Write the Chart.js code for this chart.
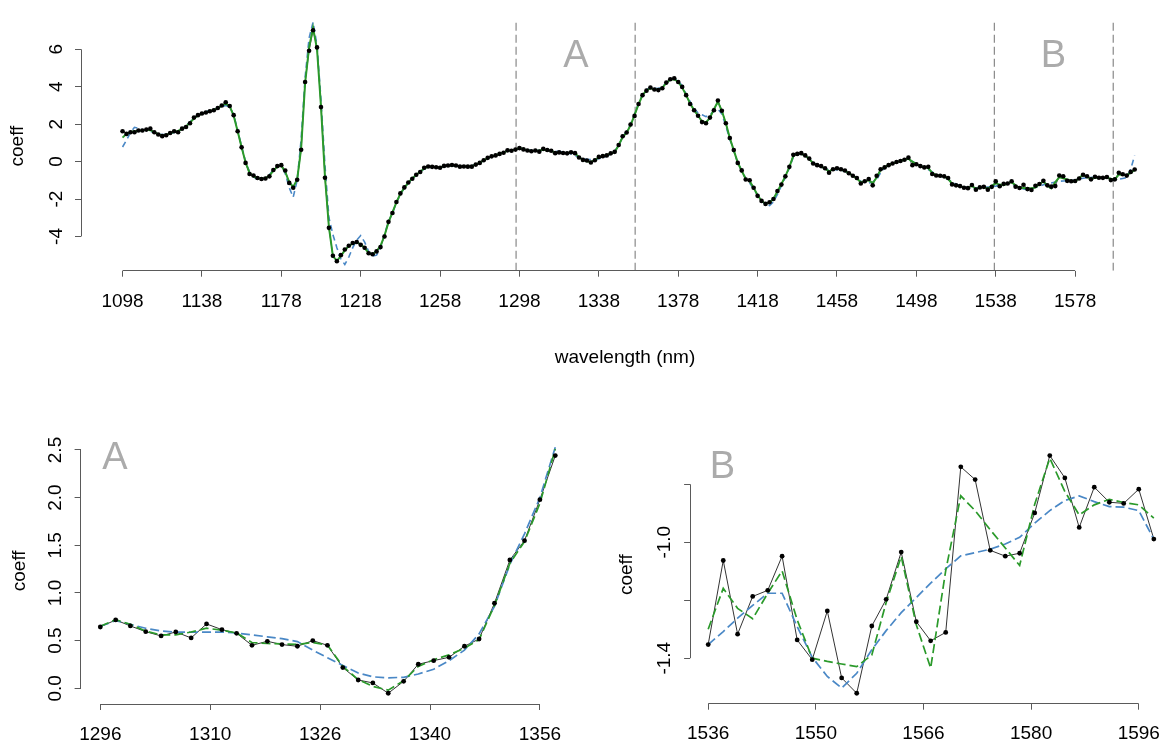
<!DOCTYPE html>
<html><head><meta charset="utf-8">
<script src="https://cdn.jsdelivr.net/npm/chart.js@4.4.1/dist/chart.umd.min.js"></script>
<style>
html,body{margin:0;padding:0;background:#fff;width:1173px;height:744px;overflow:hidden;}
canvas{position:absolute;display:block;}
#top{left:0;top:0;} #pa{left:0;top:400px;} #pb{left:580px;top:400px;}
</style></head><body>
<canvas id="top" width="1173" height="400"></canvas>
<canvas id="pa" width="580" height="344"></canvas>
<canvas id="pb" width="593" height="344"></canvas>
<script>
// ---------- data ----------
const topStart = 1098, topStep = 2;   // wavelength grid of the full spectrum
const topBlack = [1.62,1.48,1.57,1.57,1.66,1.66,1.71,1.76,1.57,1.45,
1.36,1.41,1.53,1.62,1.57,1.76,1.85,2.05,2.35,2.48,
2.57,2.62,2.69,2.74,2.86,3.00,3.17,2.97,2.48,1.62,
0.76,-0.07,-0.66,-0.74,-0.88,-0.93,-0.90,-0.79,-0.45,-0.24,
-0.19,-0.48,-1.14,-1.40,-0.97,0.63,4.25,5.92,7.02,6.10,
2.91,-0.86,-3.54,-5.03,-5.32,-5.00,-4.70,-4.50,-4.35,-4.30,
-4.45,-4.60,-4.90,-4.95,-4.80,-4.57,-4.00,-3.22,-2.75,-2.16,
-1.70,-1.38,-1.12,-0.92,-0.70,-0.56,-0.33,-0.26,-0.28,-0.30,
-0.33,-0.23,-0.21,-0.18,-0.21,-0.27,-0.26,-0.27,-0.27,-0.16,
-0.07,0.07,0.20,0.28,0.33,0.41,0.47,0.60,0.58,
0.64,0.72,0.65,0.59,0.55,0.59,0.53,0.68,0.62,0.58,0.45,0.49,0.46,0.44,0.50,0.45,0.22,0.09,0.06,-0.05,0.07,0.25,0.29,0.33,0.44,0.52,0.89,1.35,1.55,1.98,2.44,
3.08,3.55,3.79,3.96,3.85,3.82,3.92,4.22,4.40,4.45,
4.25,3.99,3.55,3.08,2.74,2.45,2.11,2.05,2.35,2.74,
3.26,2.72,2.05,1.26,0.62,-0.07,-0.47,-0.96,-1.00,-1.40,
-1.83,-2.10,-2.26,-2.17,-2.00,-1.57,-1.23,-0.79,-0.28,0.36,
0.41,0.45,0.33,0.16,-0.10,-0.19,-0.24,-0.36,-0.59,-0.41,
-0.36,-0.41,-0.48,-0.62,-0.76,-0.88,-1.17,-1.05,-0.93,-1.27,
-0.76,-0.41,-0.31,-0.19,-0.10,-0.02,0.03,0.10,0.21,-0.19,
-0.14,-0.24,-0.31,-0.28,-0.66,-0.74,-0.76,-0.79,-0.88,-1.22,
-1.27,-1.31,-1.40,-1.42,-1.25,-1.50,-1.38,-1.35,-1.50,
-1.35,-1.06,-1.32,-1.19,-1.17,-1.05,-1.34,-1.41,-1.24,-1.47,-1.52,-1.29,-1.20,-1.03,-1.27,-1.34,-1.31,-0.74,-0.78,-1.03,-1.05,-1.04,-0.90,-0.70,-0.78,-0.95,-0.81,-0.86,-0.87,-0.82,-0.99,
-0.95,-0.60,-0.68,-0.75,-0.55,-0.42];
const topGreen = [1.28,1.48,1.58,1.62,1.64,1.67,1.70,1.68,1.57,1.46,
1.40,1.43,1.52,1.58,1.64,1.74,1.88,2.08,2.30,2.46,
2.56,2.63,2.70,2.76,2.86,2.98,3.10,2.95,2.45,1.62,
0.76,-0.05,-0.60,-0.80,-0.88,-0.92,-0.88,-0.75,-0.48,-0.28,
-0.22,-0.55,-1.10,-1.35,-0.95,0.70,4.20,6.10,7.15,6.00,
2.95,-0.80,-3.50,-5.05,-5.30,-5.05,-4.75,-4.50,-4.38,-4.32,
-4.42,-4.62,-4.88,-4.95,-4.78,-4.50,-3.95,-3.25,-2.72,-2.18,
-1.72,-1.40,-1.12,-0.90,-0.70,-0.54,-0.36,-0.28,-0.28,-0.30,
-0.30,-0.25,-0.21,-0.20,-0.22,-0.25,-0.26,-0.26,-0.24,-0.16,
-0.06,0.07,0.19,0.28,0.34,0.41,0.49,0.57,0.60,
0.65,0.72,0.67,0.60,0.56,0.56,0.59,0.63,0.61,0.58,0.48,0.47,0.46,0.46,0.48,0.45,0.23,0.09,0.02,-0.02,0.08,0.23,0.30,0.35,0.42,0.51,0.87,1.31,1.54,1.94,2.50,
3.05,3.55,3.80,3.92,3.86,3.84,3.95,4.20,4.38,4.40,
4.25,3.95,3.55,3.10,2.75,2.45,2.15,2.10,2.35,2.80,
3.20,2.70,2.05,1.26,0.60,-0.05,-0.50,-0.92,-1.05,-1.40,
-1.80,-2.10,-2.25,-2.20,-1.98,-1.60,-1.20,-0.78,-0.30,0.30,
0.42,0.42,0.32,0.14,-0.08,-0.20,-0.26,-0.38,-0.52,-0.42,
-0.38,-0.42,-0.50,-0.62,-0.76,-0.90,-1.10,-1.05,-1.00,-1.15,
-0.85,-0.45,-0.30,-0.18,-0.10,-0.03,0.03,0.10,0.15,0.00,
-0.15,-0.24,-0.30,-0.35,-0.60,-0.72,-0.76,-0.80,-0.92,-1.18,
-1.28,-1.32,-1.38,-1.40,-1.30,-1.45,-1.40,-1.36,-1.45,
-1.30,-1.16,-1.23,-1.26,-1.18,-1.10,-1.27,-1.40,-1.41,-1.42,-1.43,-1.39,-1.21,-1.05,-1.29,-1.43,-1.10,-0.84,-0.89,-0.96,-1.02,-1.08,-0.87,-0.71,-0.83,-0.91,-0.87,-0.85,-0.86,-0.87,-0.92,
-0.95,-0.70,-0.70,-0.72,-0.60,-0.45];
const topBlue = [0.78,1.15,1.55,1.83,1.78,1.70,1.66,1.62,1.55,1.48,
1.45,1.45,1.50,1.55,1.62,1.75,1.92,2.12,2.32,2.48,
2.58,2.66,2.74,2.80,2.86,2.93,3.00,2.92,2.50,1.70,
0.80,0.00,-0.55,-0.82,-0.95,-0.95,-0.88,-0.70,-0.45,-0.25,
-0.20,-0.65,-1.40,-1.90,-1.00,1.20,4.50,6.60,7.45,6.20,
3.30,-0.20,-3.00,-3.90,-4.60,-5.20,-5.50,-5.10,-4.60,-4.20,
-3.95,-4.30,-4.80,-5.05,-5.00,-4.60,-3.90,-3.20,-2.75,-2.20,
-1.75,-1.42,-1.15,-0.93,-0.72,-0.55,-0.40,-0.32,-0.30,-0.30,
-0.30,-0.27,-0.24,-0.23,-0.23,-0.24,-0.25,-0.25,-0.22,-0.15,
-0.06,0.05,0.17,0.26,0.34,0.42,0.50,0.56,0.61,
0.65,0.71,0.67,0.63,0.60,0.59,0.59,0.59,0.59,0.58,0.56,0.54,0.52,0.49,0.40,0.32,0.24,0.16,0.12,0.11,0.12,0.15,0.20,0.29,0.40,0.57,0.86,1.30,1.62,2.00,2.53,
3.10,3.55,3.85,3.95,3.92,3.90,4.00,4.20,4.40,4.45,
4.30,4.05,3.60,3.20,2.85,2.60,2.50,2.40,2.50,2.70,
2.80,2.55,1.90,1.20,0.55,-0.05,-0.50,-0.90,-1.15,-1.45,
-1.80,-2.10,-2.30,-2.35,-2.15,-1.75,-1.30,-0.85,-0.35,0.25,
0.38,0.40,0.32,0.15,-0.05,-0.18,-0.28,-0.38,-0.45,-0.45,
-0.42,-0.45,-0.52,-0.62,-0.75,-0.90,-1.05,-1.12,-1.15,-1.10,
-0.95,-0.60,-0.35,-0.20,-0.10,-0.02,0.04,0.08,0.10,0.00,
-0.12,-0.22,-0.32,-0.42,-0.55,-0.68,-0.78,-0.85,-0.95,-1.10,
-1.20,-1.28,-1.35,-1.40,-1.42,-1.42,-1.40,-1.38,-1.36,
-1.35,-1.31,-1.26,-1.22,-1.18,-1.18,-1.29,-1.40,-1.46,-1.50,-1.45,-1.37,-1.31,-1.24,-1.19,-1.14,-1.09,-1.05,-1.04,-1.02,-1.01,-0.98,-0.93,-0.89,-0.86,-0.84,-0.86,-0.88,-0.88,-0.89,-0.99,
-0.99,-0.95,-0.90,-0.85,-0.40,0.33];
const topXTicks = [1098,1138,1178,1218,1258,1298,1338,1378,1418,1458,1498,1538,1578];
const topXLabels = ['1098','1138','1178','1218','1258','1298','1338','1378','1418','1458','1498','1538','1578'];
const topYTicks = [-4,-2,0,2,4,6];
const topYLabels = ['-4','-2','0','2','4','6'];
const regionLines = [1296.3, 1356.3, 1537.3, 1597.2];

const aWave = [1296.0,1298.1,1300.1,1302.2,1304.3,1306.3,1308.4,1310.5,1312.6,1314.6,1316.7,1318.8,1320.8,1322.9,1325.0,1327.0,1329.1,1331.2,1333.2,1335.3,1337.4,1339.4,1341.5,1343.6,1345.7,1347.7,1349.8,1351.9,1353.9,1356.0,1358.1];
const aBlack = [0.643,0.717,0.654,0.594,0.549,0.591,0.528,0.675,0.615,0.577,0.451,0.493,0.458,0.441,0.500,0.451,0.217,0.087,0.056,-0.052,0.073,0.252,0.290,0.325,0.441,0.517,0.892,1.346,1.549,1.979,2.441];
const aGreen = [0.65,0.72,0.67,0.60,0.56,0.56,0.59,0.63,0.61,0.58,0.48,0.47,0.465,0.46,0.48,0.455,0.23,0.09,0.02,-0.02,0.08,0.23,0.30,0.35,0.42,0.51,0.87,1.31,1.54,1.94,2.51];
const aBlue = [0.65,0.71,0.67,0.63,0.60,0.59,0.59,0.59,0.59,0.58,0.56,0.54,0.52,0.49,0.40,0.32,0.24,0.16,0.12,0.11,0.115,0.15,0.20,0.29,0.40,0.57,0.86,1.30,1.62,2.00,2.53];
const aXTicks = [1296,1311,1326,1341,1356];
const aXLabels = ['1296','1310','1326','1340','1356'];
const aYTicks = [0,0.5,1,1.5,2,2.5];
const aYLabels = ['0.0','0.5','1.0','1.5','2.0','2.5'];

const bWave = [1536.0,1538.1,1540.1,1542.2,1544.3,1546.3,1548.4,1550.5,1552.6,1554.6,1556.7,1558.8,1560.8,1562.9,1565.0,1567.0,1569.1,1571.2,1573.2,1575.3,1577.4,1579.4,1581.5,1583.6,1585.7,1587.7,1589.8,1591.9,1593.9,1596.0,1598.1];
const bBlack = [-1.353,-1.063,-1.317,-1.187,-1.166,-1.048,-1.337,-1.405,-1.237,-1.468,-1.521,-1.289,-1.197,-1.034,-1.274,-1.340,-1.311,-0.740,-0.784,-1.028,-1.048,-1.038,-0.899,-0.701,-0.778,-0.949,-0.810,-0.862,-0.866,-0.817,-0.989];
const bGreen = [-1.300,-1.159,-1.228,-1.264,-1.176,-1.099,-1.268,-1.400,-1.411,-1.420,-1.429,-1.389,-1.208,-1.049,-1.285,-1.434,-1.098,-0.840,-0.891,-0.957,-1.020,-1.080,-0.869,-0.710,-0.825,-0.906,-0.871,-0.852,-0.863,-0.871,-0.917];
const bBlue = [-1.353,-1.308,-1.262,-1.218,-1.176,-1.176,-1.291,-1.397,-1.463,-1.503,-1.452,-1.371,-1.305,-1.243,-1.191,-1.141,-1.092,-1.047,-1.036,-1.024,-1.006,-0.983,-0.934,-0.891,-0.856,-0.840,-0.860,-0.877,-0.879,-0.891,-0.990];
const bXTicks = [1536,1551,1566,1581,1596];
const bXLabels = ['1536','1550','1566','1580','1596'];
const bYTicks = [-1.4,-1.2,-1.0,-0.8];
const bYLabels = ['-1.4','','-1.0',''];

// ---------- styling ----------
const FONT = "'Liberation Sans', Arial, Helvetica, sans-serif";
const AXIS = '#5a5a5a';
const GREEN = '#2b9a2b';
const BLUE = '#4a88c6';

function pairs(xs, ys){ return ys.map((v,i)=>({x:xs[i], y:v})); }

const rAxisPlugin = {
  id:'rAxis',
  afterDraw(chart){
    const {ctx, chartArea:ca, scales:{x, y}} = chart;
    ctx.save();
    ctx.strokeStyle = AXIS; ctx.lineWidth = 1;
    const xs = x.ticks.map(t=>x.getPixelForValue(t.value));
    const yb = Math.floor(ca.bottom)+0.5;
    ctx.beginPath(); ctx.moveTo(Math.min(...xs), yb); ctx.lineTo(Math.max(...xs), yb); ctx.stroke();
    const ys = y.ticks.map(t=>y.getPixelForValue(t.value));
    const xl = Math.floor(ca.left)+0.5;
    ctx.beginPath(); ctx.moveTo(xl, Math.min(...ys)); ctx.lineTo(xl, Math.max(...ys)); ctx.stroke();
    ctx.restore();
  }
};
const lettersPlugin = {
  id:'letters',
  afterDatasetsDraw(chart, args, opts){
    const {ctx, scales:{x, y}} = chart;
    ctx.save();
    ctx.fillStyle = '#ababab';
    ctx.font = '38px ' + FONT;
    ctx.textAlign = 'center'; ctx.textBaseline = 'middle';
    (opts.items||[]).forEach(it=>{ ctx.fillText(it.text, x.getPixelForValue(it.x), y.getPixelForValue(it.y)+2); });
    ctx.restore();
  }
};

function makeChart(id, c){
  const font = {family:FONT, size:19};
  return new Chart(document.getElementById(id), {
    type:'line',
    data:{datasets:c.datasets},
    plugins:[rAxisPlugin, lettersPlugin],
    options:{
      responsive:false, animation:false, devicePixelRatio:1, events:[],
      layout:{padding:c.padding},
      plugins:{legend:{display:false}, tooltip:{enabled:false}, letters:{items:c.letters}},
      elements:{line:{tension:0}},
      scales:{
        x:{type:'linear', position:'bottom', min:c.xMin, max:c.xMax,
          afterBuildTicks:s=>{ s.ticks = c.xTicks.map(v=>({value:v})); },
          afterFit:s=>{ s.height = c.xAxisHeight; },
          ticks:{autoSkip:false, maxRotation:0, minRotation:0, padding:c.xLabelPad, color:'#000', font,
            callback:v=>{ const k=c.xTicks.indexOf(v); return k<0?'':c.xLabels[k]; }},
          grid:{display:true, drawOnChartArea:false, drawTicks:true, tickLength:6, color:AXIS, lineWidth:1},
          border:{display:false},
          title: c.xTitle ? {display:true, text:c.xTitle, color:'#000', font, padding:{top:0, bottom:c.xTitlePad}} : {display:false}
        },
        y:{type:'linear', position:'left', min:c.yMin, max:c.yMax,
          afterBuildTicks:s=>{ s.ticks = c.yTicks.map(v=>({value:v})); },
          afterFit:s=>{ s.width = c.yAxisWidth; },
          ticks:{autoSkip:false, minRotation:90, maxRotation:90, crossAlign:'center', padding:c.yLabelPad, color:'#000', font,
            callback:v=>{ const k=c.yTicks.indexOf(v); return k<0?'':c.yLabels[k]; }},
          grid:{display:true, drawOnChartArea:false, drawTicks:true, tickLength:6, color:AXIS, lineWidth:1},
          border:{display:false},
          title:{display:true, text:'coeff', color:'#000', font, padding:{top:c.yTitlePad, bottom:0}}
        }
      }
    }
  });
}

// ---------- top panel ----------
const topX = topBlack.map((_, i) => topStart + topStep*i);
const topYMin = -5.83, topYMax = 7.49;
const topSets = [
  {data:pairs(topX, topBlack), showLine:false, pointRadius:2.3, pointBackgroundColor:'#000', pointBorderWidth:0},
  {data:pairs(topX, topGreen), borderColor:GREEN, borderWidth:2, pointRadius:0},
  {data:pairs(topX, topBlue), borderColor:BLUE, borderWidth:1.6, borderDash:[6,4], pointRadius:0},
  {data:pairs(topX, topBlack), borderColor:'#222', borderWidth:0.8, pointRadius:0}
];
regionLines.forEach(v=>topSets.push({data:[{x:v,y:topYMin},{x:v,y:topYMax}], borderColor:'#888', borderWidth:1.2, borderDash:[8,4], pointRadius:0}));
makeChart('top', {
  datasets: topSets,
  padding:{top:13.3, left:0, right:0, bottom:0},
  xMin:1077.07, xMax:1625.3, yMin:topYMin, yMax:topYMax,
  xTicks:topXTicks, xLabels:topXLabels, yTicks:topYTicks, yLabels:topYLabels,
  xAxisHeight:129.3, yAxisWidth:81, xLabelPad:14, yLabelPad:10, yTitlePad:6.6,
  xTitle:'wavelength (nm)', xTitlePad:30.6,
  letters:[{text:'A', x:1326.4, y:5.71},{text:'B', x:1567, y:5.71}]
});

// ---------- panel A ----------
makeChart('pa', {
  datasets:[
    {data:pairs(aWave, aBlack), showLine:false, pointRadius:2.4, pointBackgroundColor:'#000', pointBorderWidth:0},
    {data:pairs(aWave, aGreen), borderColor:GREEN, borderWidth:1.7, borderDash:[9,4], pointRadius:0},
    {data:pairs(aWave, aBlue), borderColor:BLUE, borderWidth:1.7, borderDash:[9,4], pointRadius:0},
    {data:pairs(aWave, aBlack), borderColor:'#333', borderWidth:1, pointRadius:0}
  ],
  padding:{top:37.6, left:0, right:6.4, bottom:0},
  xMin:1293.31, xMax:1360.6, yMin:-0.165, yMax:2.63,
  xTicks:aXTicks, xLabels:aXLabels, yTicks:aYTicks, yLabels:aYLabels,
  xAxisHeight:40, yAxisWidth:80.6, xLabelPad:13.6, yLabelPad:5.5, yTitlePad:8,
  letters:[{text:'A', x:1298, y:2.43}]
});

// ---------- panel B ----------
makeChart('pb', {
  datasets:[
    {data:pairs(bWave, bBlack), showLine:false, pointRadius:2.4, pointBackgroundColor:'#000', pointBorderWidth:0},
    {data:pairs(bWave, bGreen), borderColor:GREEN, borderWidth:1.7, borderDash:[9,4], pointRadius:0},
    {data:pairs(bWave, bBlue), borderColor:BLUE, borderWidth:1.7, borderDash:[9,4], pointRadius:0},
    {data:pairs(bWave, bBlack), borderColor:'#333', borderWidth:1, pointRadius:0}
  ],
  padding:{top:45.7, left:0, right:0, bottom:0},
  xMin:1533.48, xMax:1599.36, yMin:-1.557, yMax:-0.667,
  xTicks:bXTicks, xLabels:bXLabels, yTicks:bYTicks, yLabels:bYLabels,
  xAxisHeight:40.3, yAxisWidth:110.1, xLabelPad:12.9, yLabelPad:3, yTitlePad:35.1,
  letters:[{text:'B', x:1538.0, y:-0.737}]
});
</script>
</body></html>
